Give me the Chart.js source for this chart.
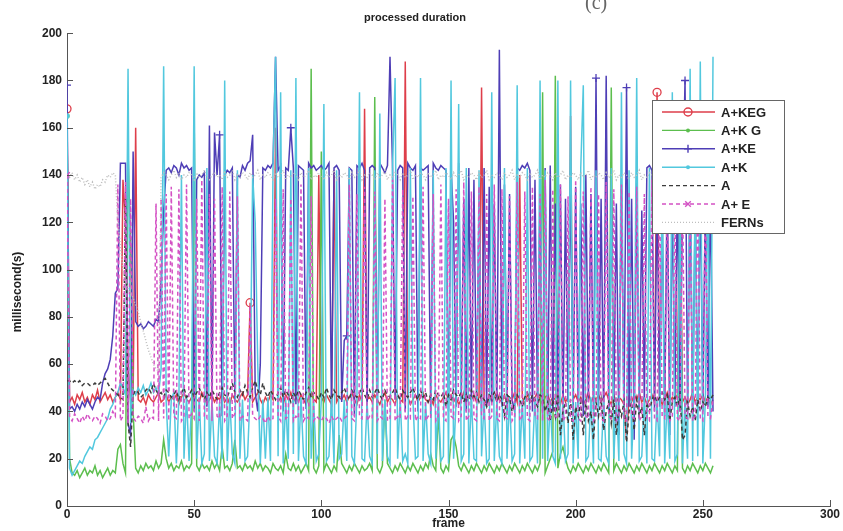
<!DOCTYPE html>
<html>
<head>
<meta charset="utf-8">
<script src="https://cdn.jsdelivr.net/npm/chart.js@4.4.0/dist/chart.umd.min.js"></script>
<style>
html, body { margin: 0; padding: 0; background: #fff; }
</style>
</head>
<body>
<canvas id="duration-chart" width="843" height="531"></canvas>
<script>
// processed duration per frame (milliseconds), frames 0..254
const xTicks = [0, 50, 100, 150, 200, 250, 300];
const yTicks = [0, 20, 40, 60, 80, 100, 120, 140, 160, 180, 200];

const aKEG = [
    168, 44, 46, 43, 47, 45, 48, 44, 46, 43,
    47, 45, 49, 44, 46, 48, 45, 47, 44, 46,
    48, 45, 138, 120, 60, 44, 46, 160, 45, 44,
    46, 43, 47, 45, 44, 46, 48, 44, 45, 47,
    44, 46, 45, 47, 43, 46, 48, 45, 44, 46,
    47, 45, 44, 48, 46, 43, 45, 47, 44, 46,
    45, 48, 44, 46, 43, 47, 45, 44, 46, 48,
    45, 47, 86, 44, 46, 48, 45, 43, 46, 44,
    47, 45, 160, 44, 46, 43, 47, 45, 48, 44,
    46, 44, 47, 45, 43, 46, 48, 45, 44, 140,
    46, 44, 47, 45, 43, 142, 44, 46, 45, 47,
    44, 46, 48, 45, 43, 47, 44, 168, 45, 46,
    44, 47, 45, 43, 46, 48, 44, 46, 45, 43,
    47, 45, 44, 188, 46, 43, 45, 47, 44, 46,
    48, 45, 44, 46, 43, 47, 45, 44, 46, 48,
    45, 47, 44, 46, 43, 45, 48, 44, 46, 45,
    47, 44, 46, 177, 45, 43, 47, 44, 46, 48,
    45, 44, 47, 43, 46, 45, 48, 44, 140, 46,
    43, 47, 45, 44, 46, 48, 45, 43, 46, 47,
    44, 46, 45, 48, 43, 47, 44, 46, 165, 45,
    47, 44, 46, 43, 45, 48, 44, 46, 45, 47,
    44, 46, 48, 45, 43, 47, 44, 46, 45, 43,
    28, 46, 44, 47, 45, 48, 44, 46, 43, 45,
    47, 44, 175, 46, 43, 45, 48, 44, 46, 45,
    47, 150, 44, 46, 43, 45, 48, 44, 46, 45,
    47, 44, 46, 43, 45
];

const aKG = [
    165, 20, 14, 13, 15, 12, 14, 16, 13, 15,
    14, 17, 13, 15, 12, 14, 16, 13, 15, 14,
    24, 26, 18, 14, 150, 110, 40, 16, 14, 17,
    15, 18, 16, 17, 15, 19, 16, 18, 28, 20,
    16, 18, 15, 17, 16, 19, 15, 17, 16, 18,
    165, 17, 15, 18, 16, 17, 15, 19, 16, 18,
    15, 25, 16, 17, 15, 18, 28, 16, 17, 15,
    18, 16, 17, 15, 19, 16, 18, 15, 17, 16,
    14, 18, 16, 15, 17, 14, 22, 16, 15, 18,
    15, 17, 14, 16, 18, 15, 185, 16, 14, 17,
    150, 15, 18, 16, 14, 17, 15, 30, 18, 16,
    14, 17, 15, 18, 16, 14, 17, 15, 16, 18,
    15, 173, 16, 14, 17, 45, 18, 16, 14, 17,
    15, 18, 16, 14, 17, 15, 18, 16, 14, 17,
    15, 18, 16, 22, 17, 15, 40, 16, 14, 17,
    15, 28, 30, 25, 17, 15, 18, 16, 14, 17,
    15, 18, 16, 14, 17, 15, 18, 16, 14, 17,
    15, 18, 16, 14, 17, 15, 18, 16, 14, 17,
    15, 18, 16, 14, 17, 15, 18, 175, 14, 17,
    20, 23, 182, 16, 22, 25, 20, 16, 14, 17,
    15, 18, 16, 14, 17, 15, 18, 16, 14, 17,
    15, 18, 16, 14, 177, 15, 18, 16, 14, 17,
    15, 18, 16, 14, 17, 15, 18, 16, 14, 17,
    15, 18, 16, 14, 17, 15, 18, 16, 14, 17,
    15, 150, 16, 14, 17, 15, 18, 16, 14, 17,
    15, 18, 16, 14, 17
];

const aKE = [
    178, 41, 42, 40, 43, 41, 44, 42, 45, 43,
    41, 44, 46, 45, 52, 56, 58, 62, 72, 90,
    92, 145, 145, 145, 35, 30, 150, 78, 76, 77,
    75, 76, 78, 77, 76, 79, 78, 95, 125, 142,
    143, 141, 144, 143, 140, 145, 143, 144, 142, 143,
    40, 138, 140, 139, 141, 42, 161, 45, 158, 140,
    157, 38, 140, 142, 141, 143, 44, 140, 139, 144,
    142, 145, 146, 157, 48, 40, 60, 143, 142, 144,
    143, 145, 190, 142, 144, 40, 143, 142, 160, 143,
    43, 144, 143, 142, 41, 145, 143, 144, 142, 143,
    144, 142, 143, 145, 40, 143, 144, 142, 44, 70,
    72, 143, 142, 38, 144, 143, 145, 142, 40, 143,
    144, 143, 42, 145, 143, 141, 144, 190, 143, 45,
    142, 144, 143, 40, 145, 143, 142, 144, 40, 143,
    142, 143, 144, 38, 145, 143, 142, 144, 143, 142,
    40, 143, 120, 42, 145, 44, 130, 40, 143, 42,
    138, 45, 125, 40, 143, 42, 135, 44, 128, 40,
    193, 42, 136, 40, 132, 45, 40, 143, 142, 144,
    143, 145, 142, 40, 138, 42, 133, 40, 143, 38,
    144, 40, 128, 42, 136, 38, 130, 44, 142, 40,
    135, 42, 128, 38, 140, 44, 132, 40, 181, 42,
    130, 38, 182, 40, 134, 44, 128, 30, 136, 40,
    177, 42, 130, 28, 138, 40, 125, 44, 143, 144,
    142, 40, 135, 42, 128, 38, 140, 30, 132, 42,
    136, 40, 128, 180, 42, 135, 38, 130, 44, 138,
    40, 132, 42, 136, 40
];

const aK = [
    165, 16, 13, 15, 17, 19, 18, 21, 23, 25,
    24, 28, 29, 31, 33, 35, 37, 41, 43, 46,
    48, 52, 50, 47, 185, 35, 49, 47, 50, 48,
    51, 47, 49, 52, 48, 50, 47, 58, 186, 44,
    21, 45, 48, 18, 46, 140, 20, 47, 19, 44,
    186, 20, 46, 18, 22, 143, 19, 45, 21, 18,
    44, 20, 180, 19, 46, 22, 18, 142, 20, 45,
    19, 21, 48, 140, 120, 60, 18, 45, 20, 46,
    19, 143, 190, 21, 175, 18, 45, 20, 142, 22,
    181, 19, 46, 21, 18, 143, 20, 44, 19, 22,
    45, 170, 19, 21, 46, 18, 142, 20, 22, 45,
    19, 143, 21, 18, 46, 175, 20, 19, 44, 21,
    18, 142, 22, 166, 19, 45, 21, 18, 143, 181,
    20, 46, 19, 22, 18, 143, 45, 20, 21, 181,
    19, 44, 22, 18, 142, 20, 46, 19, 21, 143,
    18, 180, 20, 45, 170, 19, 22, 143, 18, 46,
    20, 19, 142, 21, 45, 18, 20, 175, 19, 44,
    21, 18, 143, 20, 46, 19, 22, 178, 18, 45,
    20, 143, 19, 21, 46, 18, 180, 20, 142, 19,
    45, 21, 18, 180, 20, 46, 19, 22, 180, 18,
    44, 20, 143, 178, 19, 21, 46, 18, 142, 20,
    19, 45, 21, 18, 143, 20, 46, 19, 175, 22,
    18, 142, 20, 45, 181, 19, 21, 46, 18, 143,
    20, 19, 45, 21, 143, 18, 46, 20, 175, 19,
    22, 143, 18, 45, 20, 185, 19, 142, 21, 188,
    18, 45, 143, 20, 190
];

const aOnly = [
    53, 53, 52, 53, 52, 53, 51, 52, 52, 51,
    51, 52, 51, 52, 53, 54, 52, 50, 49, 48,
    47, 46, 45, 130, 35, 25, 47, 49, 48, 46,
    47, 49, 50, 48, 52, 49, 47, 48, 46, 49,
    48, 46, 47, 49, 45, 48, 50, 46, 47, 49,
    46, 48, 50, 47, 45, 48, 46, 49, 47, 45,
    48, 50, 47, 46, 49, 52, 48, 46, 49, 47,
    51, 48, 46, 50, 53, 49, 47, 52, 48, 46,
    49, 47, 45, 48, 50, 46, 49, 47, 44, 48,
    46, 49, 47, 45, 48, 50, 46, 48, 47, 45,
    48, 46, 50, 47, 45, 49, 47, 46, 48, 50,
    47, 45, 49, 47, 46, 48, 50, 47, 45, 49,
    46, 48, 50, 47, 45, 49, 47, 46, 48, 50,
    47, 45, 49, 47, 46, 48, 50, 47, 45, 49,
    46, 48, 44, 47, 45, 49, 47, 46, 48, 42,
    47, 45, 49, 47, 46, 48, 44, 47, 45, 49,
    46, 48, 44, 47, 45, 42, 47, 46, 48, 44,
    47, 45, 38, 47, 46, 40, 44, 47, 45, 42,
    46, 48, 44, 47, 45, 42, 47, 46, 40, 44,
    36, 45, 38, 47, 30, 40, 44, 35, 45, 28,
    42, 38, 44, 30, 45, 36, 40, 28, 44, 38,
    45, 32, 40, 44, 35, 45, 30, 42, 38, 44,
    27, 40, 44, 32, 45, 38, 42, 30, 44, 40,
    45, 47, 44, 46, 48, 45, 47, 36, 44, 46,
    42, 47, 28, 30, 44, 38, 42, 36, 45, 40,
    44, 42, 46, 45, 47
];

const aE = [
    140, 38, 36, 39, 37, 35, 38, 36, 39, 37,
    36, 38, 37, 35, 39, 38, 36, 37, 40, 38,
    136, 36, 38, 137, 35, 130, 37, 36, 38, 37,
    35, 42, 36, 38, 37, 128, 36, 130, 37, 132,
    36, 135, 38, 37, 134, 36, 38, 136, 37, 39,
    37, 130, 36, 138, 38, 37, 132, 36, 130, 38,
    37, 135, 36, 38, 133, 37, 39, 131, 36, 38,
    37, 36, 85, 38, 37, 36, 38, 37, 35, 38,
    36, 37, 130, 38, 36, 134, 37, 38, 130, 36,
    38, 37, 136, 36, 38, 37, 131, 36, 38, 37,
    36, 38, 37, 35, 38, 36, 37, 38, 36, 37,
    38, 136, 37, 36, 132, 38, 37, 135, 36, 38,
    37, 133, 36, 38, 37, 130, 36, 37, 138, 36,
    38, 37, 134, 36, 38, 37, 131, 36, 38, 37,
    135, 36, 38, 37, 132, 36, 38, 136, 37, 36,
    130, 38, 37, 134, 36, 38, 137, 36, 38, 133,
    37, 36, 135, 38, 37, 132, 36, 38, 136, 37,
    36, 134, 38, 37, 131, 36, 38, 137, 36, 38,
    133, 37, 36, 135, 38, 37, 132, 36, 138, 37,
    36, 134, 38, 37, 136, 36, 38, 131, 37, 36,
    138, 37, 36, 133, 38, 37, 135, 36, 38, 132,
    37, 36, 137, 38, 37, 134, 36, 38, 136, 37,
    36, 133, 38, 37, 135, 36, 38, 132, 37, 36,
    138, 37, 36, 134, 38, 37, 136, 36, 38, 131,
    37, 36, 135, 38, 37, 133, 36, 38, 137, 37,
    36, 134, 38, 37, 45
];

const ferns = [
    140, 139, 141, 138, 140, 137, 139, 136, 138, 135,
    137, 134, 136, 135, 138, 137, 140, 139, 141, 140,
    120, 110, 100, 95, 92, 90, 88, 85, 82, 78,
    74, 70, 66, 63, 60, 58, 57, 139, 141, 140,
    138, 140, 142, 139, 141, 138, 140, 139, 141, 140,
    138, 141, 139, 140, 142, 139, 138, 140, 141, 139,
    140, 138, 141, 139, 140, 142, 138, 140, 139, 141,
    140, 138, 141, 139, 140, 142, 138, 140, 139, 141,
    140, 138, 141, 139, 140, 142, 138, 140, 139, 141,
    140, 138, 141, 139, 140, 142, 138, 140, 139, 141,
    140, 138, 141, 139, 140, 142, 138, 140, 139, 141,
    140, 138, 141, 139, 140, 142, 138, 140, 139, 141,
    140, 138, 141, 139, 140, 142, 138, 140, 139, 141,
    140, 138, 141, 139, 140, 142, 138, 140, 139, 141,
    140, 138, 141, 139, 140, 142, 138, 140, 139, 141,
    140, 138, 141, 139, 140, 142, 138, 140, 139, 141,
    140, 138, 141, 139, 140, 142, 138, 140, 139, 141,
    140, 138, 141, 139, 140, 142, 138, 140, 139, 141,
    140, 138, 141, 139, 140, 142, 138, 140, 139, 141,
    140, 138, 141, 139, 140, 142, 138, 140, 139, 141,
    140, 138, 141, 139, 140, 142, 138, 140, 139, 141,
    140, 138, 141, 139, 140, 142, 138, 140, 139, 141,
    140, 138, 141, 139, 140, 142, 138, 140, 139, 141,
    140, 138, 141, 139, 140, 142, 138, 140, 139, 141,
    140, 138, 141, 139, 140, 142, 138, 140, 139, 141,
    140, 138, 141, 139, 140
];

// frames that carry a marker (sparse, like the original figure)
const kegMarks = [0, 72, 232];
const kgMarks = [0];
const keMarks = [0, 60, 88, 110, 208, 220, 243];
const kMarks = [0];
const eMarks = [0];

const toPoints = (arr) => arr.map((v, i) => ({ x: i, y: v }));
const markerRadius = (marks, r) => (ctx) => marks.includes(ctx.dataIndex) ? r : 0;

const baseFont = "'Liberation Sans', Arial, sans-serif";

const series = [
    { label: 'A+KEG', data: aKEG, color: 'rgb(222,62,74)', dash: [], marks: kegMarks, style: 'circle', r: 4, fill: false, order: 7 },
    { label: 'A+K G', data: aKG, color: 'rgb(92,190,78)', dash: [], marks: kgMarks, style: 'circle', r: 2, fill: true, order: 6 },
    { label: 'A+KE', data: aKE, color: 'rgb(78,62,182)', dash: [], marks: keMarks, style: 'cross', r: 4, fill: false, order: 5 },
    { label: 'A+K', data: aK, color: 'rgb(82,200,222)', dash: [], marks: kMarks, style: 'circle', r: 2, fill: true, order: 4 },
    { label: 'A', data: aOnly, color: 'rgb(60,60,60)', dash: [4, 3], marks: [], style: false, r: 0, fill: false, order: 3 },
    { label: 'A+ E', data: aE, color: 'rgb(212,82,196)', dash: [4, 3], marks: eMarks, style: 'crossRot', r: 4, fill: false, order: 2 },
    { label: 'FERNs', data: ferns, color: 'rgb(190,190,190)', dash: [1, 2], marks: [], style: false, r: 0, fill: false, order: 1 }
];

const datasets = series.map(s => ({
    label: s.label,
    data: toPoints(s.data),
    borderColor: s.color,
    backgroundColor: s.fill ? s.color : 'rgba(0,0,0,0)',
    borderWidth: 1.5,
    borderDash: s.dash,
    pointStyle: s.style || 'circle',
    pointRadius: markerRadius(s.marks, s.r),
    pointBorderColor: s.color,
    pointBackgroundColor: s.fill ? s.color : 'rgba(0,0,0,0)',
    pointBorderWidth: 1.3,
    tension: 0,
    order: s.order,
    _legendMarker: s.style,
    _legendR: s.r,
    _legendFill: s.fill
}));

// draws the marker glyphs used in the legend
function drawGlyph(ctx, style, x, y, r, color, fill) {
    ctx.strokeStyle = color;
    ctx.fillStyle = color;
    ctx.setLineDash([]);
    ctx.beginPath();
    if (style === 'circle') {
        ctx.arc(x, y, r, 0, Math.PI * 2);
        if (fill) ctx.fill(); else ctx.stroke();
    } else if (style === 'cross') {
        ctx.moveTo(x - r, y); ctx.lineTo(x + r, y);
        ctx.moveTo(x, y - r); ctx.lineTo(x, y + r);
        ctx.stroke();
    } else if (style === 'crossRot') {
        ctx.moveTo(x - r * 0.7, y - r * 0.7); ctx.lineTo(x + r * 0.7, y + r * 0.7);
        ctx.moveTo(x - r * 0.7, y + r * 0.7); ctx.lineTo(x + r * 0.7, y - r * 0.7);
        ctx.stroke();
    }
}

// inward tick marks, y title, boxed legend and the clipped panel caption
const matlabLook = {
    id: 'matlabLook',
    afterDraw(chart) {
        const ctx = chart.ctx;
        const xs = chart.scales.x;
        const ys = chart.scales.y;
        ctx.save();
        ctx.strokeStyle = '#555';
        ctx.lineWidth = 1;
        xTicks.forEach(v => {
            const px = Math.round(xs.getPixelForValue(v)) + 0.5;
            ctx.beginPath();
            ctx.moveTo(px, ys.bottom);
            ctx.lineTo(px, ys.bottom - 6);
            ctx.stroke();
        });
        yTicks.forEach(v => {
            const py = Math.round(ys.getPixelForValue(v)) + 0.5;
            ctx.beginPath();
            ctx.moveTo(xs.left, py);
            ctx.lineTo(xs.left + 6, py);
            ctx.stroke();
        });

        // y axis title, sitting a little below the middle like the original
        ctx.save();
        ctx.translate(18, 292);
        ctx.rotate(-Math.PI / 2);
        ctx.fillStyle = '#222';
        ctx.font = 'bold 12px ' + baseFont;
        ctx.textAlign = 'center';
        ctx.textBaseline = 'middle';
        ctx.fillText('millisecond(s)', 0, 0);
        ctx.restore();

        // legend box
        const bx = 652, by = 100, bw = 132, bh = 133;
        ctx.fillStyle = '#fff';
        ctx.fillRect(bx, by, bw, bh);
        ctx.strokeStyle = '#666';
        ctx.strokeRect(bx + 0.5, by + 0.5, bw, bh);
        ctx.font = 'bold 13px ' + baseFont;
        ctx.textBaseline = 'middle';
        chart.data.datasets.forEach((ds, i) => {
            const ly = by + 12 + i * 18.4;
            ctx.strokeStyle = ds.borderColor;
            ctx.lineWidth = 1.4;
            ctx.setLineDash(ds.borderDash);
            ctx.beginPath();
            ctx.moveTo(bx + 10, ly);
            ctx.lineTo(bx + 63, ly);
            ctx.stroke();
            if (ds._legendMarker) {
                drawGlyph(ctx, ds._legendMarker, bx + 36, ly, ds._legendR, ds.borderColor, ds._legendFill);
            }
            ctx.fillStyle = '#222';
            ctx.fillText(ds.label, bx + 69, ly + 1);
        });

        // caption of the figure panel, cut by the top edge
        ctx.fillStyle = '#666';
        ctx.font = '20px "Liberation Serif", serif';
        ctx.textBaseline = 'alphabetic';
        ctx.fillText('(c)', 585, 9);
        ctx.restore();
    }
};

new Chart(document.querySelector('#duration-chart'), {
    type: 'line',
    data: { datasets: datasets },
    options: {
        responsive: false,
        animation: false,
        layout: { padding: { top: 0, right: 13, bottom: 0, left: 0 } },
        elements: { line: { borderJoinStyle: 'miter' } },
        scales: {
            x: {
                type: 'linear',
                min: 0,
                max: 300,
                grid: { display: false, drawTicks: false },
                border: { display: true, color: '#555', width: 1 },
                ticks: {
                    stepSize: 50,
                    padding: 1,
                    color: '#222',
                    font: { family: baseFont, size: 12, weight: 'bold' }
                },
                title: {
                    display: true,
                    text: 'frame',
                    color: '#222',
                    padding: { top: 0, bottom: 0 },
                    font: { family: baseFont, size: 12, weight: 'bold' }
                },
                afterFit: (scale) => { scale.height = 25; }
            },
            y: {
                min: 0,
                max: 200,
                grid: { display: false, drawTicks: false },
                border: { display: true, color: '#555', width: 1 },
                ticks: {
                    stepSize: 20,
                    padding: 5,
                    color: '#222',
                    font: { family: baseFont, size: 12, weight: 'bold' }
                },
                afterFit: (scale) => { scale.width = 67; }
            }
        },
        plugins: {
            legend: { display: false },
            tooltip: { enabled: false },
            title: {
                display: true,
                text: 'processed duration',
                color: '#222',
                padding: { top: 11, bottom: 9 },
                font: { family: baseFont, size: 11, weight: 'bold' }
            }
        }
    },
    plugins: [matlabLook]
});
</script>
</body>
</html>
